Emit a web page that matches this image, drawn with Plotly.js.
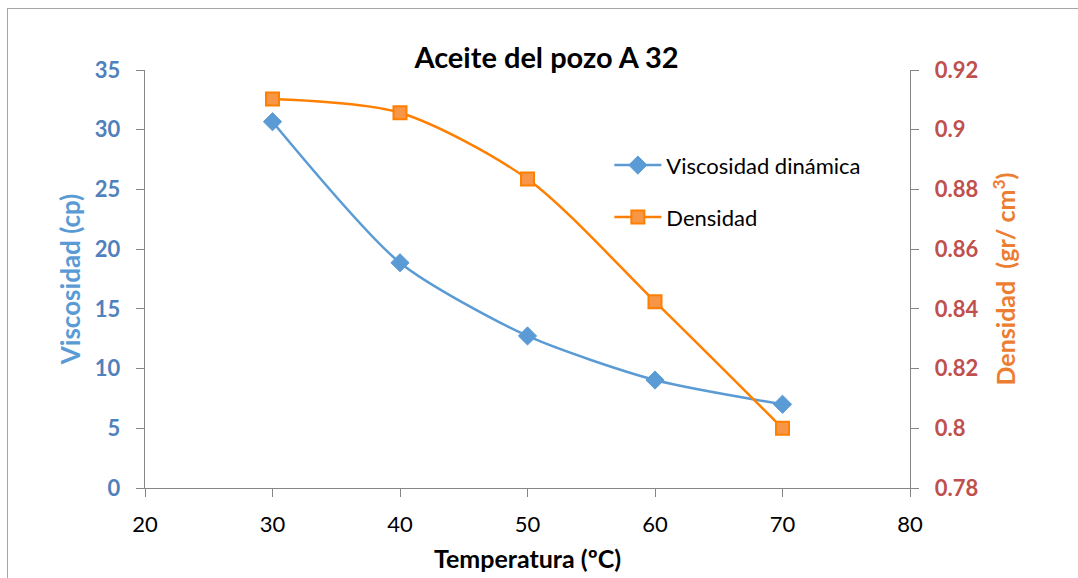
<!DOCTYPE html>
<html><head><meta charset="utf-8">
<script src="https://cdn.plot.ly/plotly-3.0.1.min.js"></script>
<style>
html,body{margin:0;padding:0;background:#fff;}
#wrap{position:relative;width:1078px;height:578px;overflow:hidden;}
#frame{position:absolute;left:7px;top:8px;width:1200px;height:700px;border-left:1.5px solid #a6a6a6;border-top:1.5px solid #a6a6a6;pointer-events:none;z-index:5;}
#chart{position:absolute;left:0;top:0;width:1078px;height:578px;}
</style></head>
<body><div id="wrap"><div id="chart"></div><div id="frame"></div></div>
<script>
const temperatura = [30, 40, 50, 60, 70];
const viscosidad = [30.67, 18.86, 12.73, 9.04, 7.01];
const densidad = [0.9103, 0.9057, 0.8835, 0.8424, 0.8000];
const xTicks = [20, 30, 40, 50, 60, 70, 80];
const yTicks = [0, 5, 10, 15, 20, 25, 30, 35];
const y2Ticks = [0.78, 0.80, 0.82, 0.84, 0.86, 0.88, 0.90, 0.92];
const y2Labels = ['0.78', '0.8', '0.82', '0.84', '0.86', '0.88', '0.9', '0.92'];

const F = 'Lato, "Open Sans", sans-serif';
const traces = [
  {x: temperatura, y: viscosidad, name: 'Viscosidad dinámica', type: 'scatter', mode: 'lines+markers',
   line: {color: '#5b9bd5', width: 2.5, shape: 'spline', smoothing: 0.7},
   marker: {symbol: 'diamond', size: 14, color: '#5b9bd5', line: {color: '#5b9bd5', width: 1}},
   legend: 'legend'},
  {x: temperatura, y: densidad, name: 'Densidad', type: 'scatter', mode: 'lines+markers', yaxis: 'y2',
   line: {color: '#ff7f00', width: 2.5, shape: 'spline', smoothing: 0.8},
   marker: {symbol: 'square', size: 13, color: '#f79646', line: {color: '#ff7f00', width: 2}},
   legend: 'legend2'}
];
const layout = {
  width: 1078, height: 578,
  margin: {l: 145, r: 168, t: 70, b: 90},
  paper_bgcolor: '#fff', plot_bgcolor: '#fff',
  font: {family: F, color: '#000'},
  title: {text: '<b>Aceite del pozo A 32</b>', font: {family: F, size: 29, color: '#000', weight: 'bold'}, x: 0.507, xanchor: 'center', y: 0.9, yanchor: 'middle'},
  xaxis: {range: [20, 80], tickvals: xTicks, ticktext: xTicks.map(String), showgrid: false, zeroline: false,
    showline: true, linecolor: '#868686', linewidth: 1.3, ticks: 'outside', ticklen: 8, tickcolor: '#868686',
    ticklabelstandoff: 8,
    tickfont: {family: F, size: 22, color: '#000'},
    title: {text: '<b>Temperatura (ºC)</b>', font: {family: F, size: 25, color: '#000', weight: 'bold'}, standoff: 14}},
  yaxis: {range: [0, 35], tickvals: yTicks, ticktext: yTicks.map(String), showgrid: false, zeroline: false,
    showline: true, linecolor: '#868686', linewidth: 1.3, ticks: 'outside', ticklen: 8, tickcolor: '#868686',
    ticklabelstandoff: 11,
    tickfont: {family: F, size: 22, color: '#4f81bd', weight: 'bold'},
    title: {text: '<b>Viscosidad (cp)</b>', font: {family: F, size: 26, color: '#5b9bd5', weight: 'bold'}, standoff: 6}},
  yaxis2: {range: [0.78, 0.92], overlaying: 'y', side: 'right', tickvals: y2Ticks, ticktext: y2Labels,
    showgrid: false, zeroline: false, showline: true, linecolor: '#868686', linewidth: 1.3,
    ticks: 'outside', ticklen: 8, tickcolor: '#868686', ticklabelstandoff: 11,
    tickfont: {family: F, size: 22, color: '#c0504d', weight: 'bold'},
    title: {text: '<b>Densidad  (gr/ cm<sup>3</sup>)</b>', font: {family: F, size: 25, color: '#ed7d31', weight: 'bold'}, standoff: 20}},
  legend: {x: 0.607, y: 0.772, xanchor: 'left', yanchor: 'middle', bgcolor: 'rgba(0,0,0,0)',
    font: {family: F, size: 22, color: '#000'}, itemwidth: 47},
  legend2: {x: 0.607, y: 0.648, xanchor: 'left', yanchor: 'middle', bgcolor: 'rgba(0,0,0,0)',
    font: {family: F, size: 22, color: '#000'}, itemwidth: 47},
  showlegend: true
};
Plotly.newPlot('chart', traces, layout, {displayModeBar: false, staticPlot: true});
</script></body></html>
